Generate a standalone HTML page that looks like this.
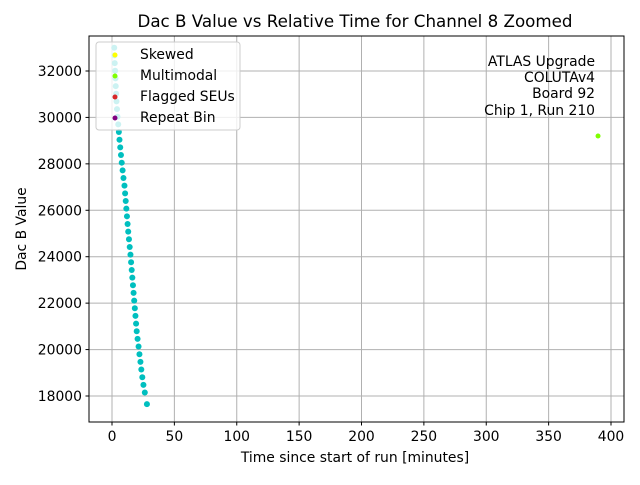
<!DOCTYPE html>
<html><head><meta charset="utf-8"><style>
body{margin:0;background:#fff;}
svg{font-family:"DejaVu Sans","Liberation Sans",sans-serif;}
</style></head><body>
<svg id="chart" width="640" height="480">
<rect x="0" y="0" width="640" height="480" fill="#fff"/>
<text x="355" y="27" text-anchor="middle" font-size="16.7">Dac B Value vs Relative Time for Channel 8 Zoomed</text>
<g id="grid"></g>
<g id="points"></g>
<rect x="89" y="36" width="535" height="386" fill="none" stroke="#000" stroke-width="1"/>
<g id="ticks"></g>
<text x="355" y="462" text-anchor="middle" font-size="13.9">Time since start of run [minutes]</text>
<text transform="translate(26,229) rotate(-90)" text-anchor="middle" font-size="13.9">Dac B Value</text>
<g>
<rect x="96" y="42" width="144" height="88" rx="3" fill="#fff" fill-opacity="0.8" stroke="#ccc"/>
<circle cx="115" cy="55" r="2.5" fill="#ffff00"/><text x="140" y="59" font-size="13.9">Skewed</text>
<circle cx="115" cy="76" r="2.5" fill="#7fff00"/><text x="140" y="80" font-size="13.9">Multimodal</text>
<circle cx="115" cy="97" r="2.5" fill="#d62728"/><text x="140" y="101" font-size="13.9">Flagged SEUs</text>
<circle cx="115" cy="118" r="2.5" fill="#800080"/><text x="140" y="122" font-size="13.9">Repeat Bin</text>
</g>
<g font-size="13.9" text-anchor="end">
<text x="595" y="66">ATLAS Upgrade</text>
<text x="595" y="82">COLUTAv4</text>
<text x="595" y="98">Board 92</text>
<text x="595" y="115">Chip 1, Run 210</text>
</g>
</svg>
<script>
const xTicks=[0,50,100,150,200,250,300,350,400];
const yTicks=[18000,20000,22000,24000,26000,28000,30000,32000];
const times=[1.8,2.0,2.2,2.5,2.8,3.0,3.3,3.6,4.0,4.4,5.0,5.5,6.0,6.6,7.2,7.8,8.5,9.2,10,10.5,11,11.5,12,12.5,13,13.6,14.2,14.8,15.3,15.8,16.3,16.8,17.3,17.8,18.3,18.8,19.3,19.8,20.5,21.3,22,22.8,23.5,24.3,25.2,26.3,28];
const dacValues=[33000,32670,32340,32010,31680,31350,31020,30690,30360,30030,29700,29370,29040,28710,28380,28050,27720,27390,27060,26730,26400,26070,25740,25410,25080,24750,24420,24090,23760,23430,23100,22770,22440,22110,21780,21450,21120,20790,20460,20130,19800,19470,19140,18810,18480,18150,17650];
const multimodalTimes=[389.6];
const multimodalValues=[29200];
const NS='http://www.w3.org/2000/svg';
const xs=v=>112+v*1.2475;
const ys=v=>396-(v-18000)*46.43/2000;
const grid=document.getElementById('grid'),ticks=document.getElementById('ticks'),pts=document.getElementById('points');
function mk(tag,at,parent){const e=document.createElementNS(NS,tag);for(const k in at)e.setAttribute(k,at[k]);parent.appendChild(e);return e;}
xTicks.forEach(t=>{const x=xs(t);
const g=mk('line',{x1:x,x2:x,y1:36,y2:422,stroke:'#b0b0b0','stroke-width':1},grid);


mk('line',{x1:x,x2:x,y1:422,y2:425.5,stroke:'#000'},ticks);
const l=mk('text',{x:x,y:441,'text-anchor':'middle','font-size':13.9},ticks);l.textContent=t;

});
yTicks.forEach(t=>{const y=ys(t);
const g=mk('line',{x1:89,x2:624,y1:y,y2:y,stroke:'#b0b0b0','stroke-width':1},grid);


mk('line',{x1:85.5,x2:89,y1:y,y2:y,stroke:'#000'},ticks);
const l=mk('text',{x:82,y:y+5,'text-anchor':'end','font-size':13.9},ticks);l.textContent=t;

});
times.forEach((t,i)=>{const c=mk('circle',{cx:xs(t),cy:ys(dacValues[i]),r:3,fill:'#00bfbf'},pts);

});
multimodalTimes.forEach((t,i)=>{const c=mk('circle',{cx:xs(t),cy:ys(multimodalValues[i]),r:2.5,fill:'#7fff00'},pts);

});
</script>
</body></html>
